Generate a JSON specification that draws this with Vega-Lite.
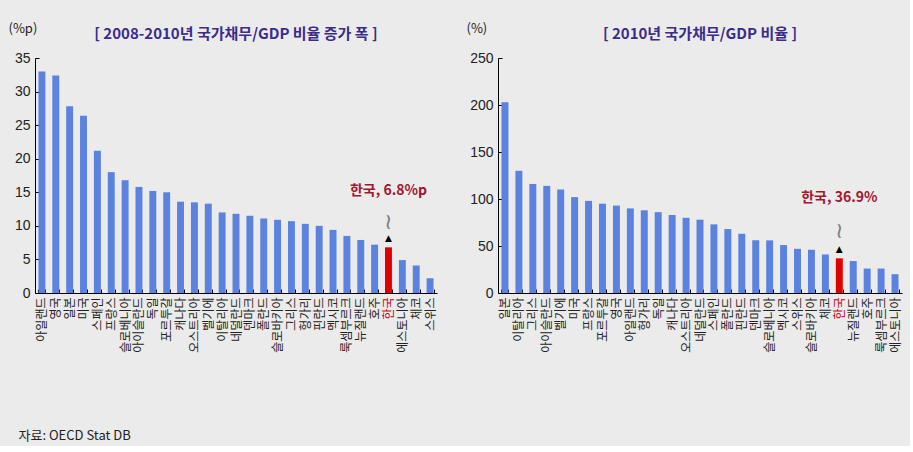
{
  "$schema": "https://vega.github.io/schema/vega-lite/v6.json",
  "background": "#EBEBEB",
  "padding": {"left": 8, "top": 22, "right": 8, "bottom": 4},
  "datasets": {
    "inc": [
      {"country": "아일랜드", "value": 33.0},
      {"country": "영국", "value": 32.4},
      {"country": "일본", "value": 27.8},
      {"country": "미국", "value": 26.4},
      {"country": "스페인", "value": 21.2},
      {"country": "프랑스", "value": 18.0},
      {"country": "슬로베니아", "value": 16.8},
      {"country": "아이슬란드", "value": 15.8},
      {"country": "독일", "value": 15.2},
      {"country": "포르투갈", "value": 15.0},
      {"country": "캐나다", "value": 13.6},
      {"country": "오스트리아", "value": 13.5},
      {"country": "벨기에", "value": 13.3},
      {"country": "이탈리아", "value": 12.0},
      {"country": "네덜란드", "value": 11.8},
      {"country": "덴마크", "value": 11.5},
      {"country": "폴란드", "value": 11.1},
      {"country": "슬로바키아", "value": 10.9},
      {"country": "그리스", "value": 10.7},
      {"country": "헝가리", "value": 10.3},
      {"country": "핀란드", "value": 10.0},
      {"country": "멕시코", "value": 9.4},
      {"country": "룩셈부르크", "value": 8.5},
      {"country": "뉴질랜드", "value": 7.9},
      {"country": "호주", "value": 7.2},
      {"country": "한국", "value": 6.8},
      {"country": "에스토니아", "value": 4.9},
      {"country": "체코", "value": 4.1},
      {"country": "스위스", "value": 2.2}
    ],
    "ratio": [
      {"country": "일본", "value": 203},
      {"country": "이탈리아", "value": 130},
      {"country": "그리스", "value": 116},
      {"country": "아이슬란드", "value": 114},
      {"country": "벨기에", "value": 110},
      {"country": "미국", "value": 102},
      {"country": "프랑스", "value": 98},
      {"country": "포르투갈", "value": 95},
      {"country": "영국", "value": 93},
      {"country": "아일랜드", "value": 90},
      {"country": "헝가리", "value": 88},
      {"country": "독일", "value": 86},
      {"country": "캐나다", "value": 83},
      {"country": "오스트리아", "value": 80},
      {"country": "네덜란드", "value": 78},
      {"country": "스페인", "value": 73},
      {"country": "폴란드", "value": 68},
      {"country": "핀란드", "value": 63},
      {"country": "덴마크", "value": 56},
      {"country": "슬로베니아", "value": 56},
      {"country": "멕시코", "value": 51},
      {"country": "스위스", "value": 47},
      {"country": "슬로바키아", "value": 46},
      {"country": "체코", "value": 41},
      {"country": "한국", "value": 36.9},
      {"country": "뉴질랜드", "value": 34},
      {"country": "호주", "value": 26},
      {"country": "룩셈부르크", "value": 26},
      {"country": "에스토니아", "value": 20}
    ],
    "incNote": [{"country": "한국", "value": 6.8, "label": "한국, 6.8%p", "arrow": "▲", "wave": "≀"}],
    "ratioNote": [{"country": "한국", "value": 36.9, "label": "한국, 36.9%", "arrow": "▲", "wave": "≀"}]
  },
  "config": {
    "font": "Noto Sans CJK KR",
    "view": {"stroke": null},
    "axis": {"grid": false, "domainColor": "#000000", "tickColor": "#000000", "labelColor": "#222222", "titleColor": "#222222", "titleFontWeight": "normal"},
    "title": {"color": "#3B2C8C", "fontSize": 15, "fontWeight": "bold", "frame": "group", "anchor": "middle", "offset": -20}
  },
  "spacing": 29,
  "hconcat": [
    {
      "width": 402,
      "height": 235,
      "title": {"text": "[ 2008-2010년 국가채무/GDP 비율 증가 폭 ]"},
      "encoding": {
        "x": {
          "field": "country", "type": "nominal", "sort": null,
          "scale": {"paddingInner": 0.5, "paddingOuter": 0.25},
          "axis": {
            "title": "자료: OECD Stat DB", "titleX": -17, "titleY": 142, "titleAlign": "left", "titleAnchor": "start", "titleBaseline": "middle", "titleFontSize": 13,
            "labelAngle": -90, "labelFontSize": 12, "labelPadding": 8, "tickBand": "extent", "tickSize": -4,
            "labelColor": {"condition": {"test": "datum.value === '한국'", "value": "#C00018"}, "value": "#222222"}
          }
        },
        "y": {
          "field": "value", "type": "quantitative",
          "scale": {"domain": [0, 35]},
          "axis": {
            "values": [0, 5, 10, 15, 20, 25, 30, 35], "labelOverlap": false,
            "title": "(%p)", "titleAngle": 0, "titleAlign": "left", "titleBaseline": "middle", "titleX": -27, "titleY": -30, "titleFontSize": 13,
            "labelFont": "Liberation Sans", "labelFontSize": 14, "tickSize": -4, "labelPadding": 9
          }
        }
      },
      "layer": [
        {
          "data": {"name": "inc"},
          "mark": {"type": "bar"},
          "encoding": {
            "color": {"condition": {"test": "datum.country === '한국'", "value": "#E00000"}, "value": "#5A82DE"}
          }
        },
        {
          "data": {"name": "incNote"},
          "mark": {"type": "text", "dy": -56, "fontSize": 14, "fontWeight": "bold", "color": "#A01830"},
          "encoding": {"text": {"field": "label"}}
        },
        {
          "data": {"name": "incNote"},
          "mark": {"type": "text", "dy": -9, "fontSize": 9, "color": "#000000", "font": "DejaVu Sans"},
          "encoding": {"text": {"field": "arrow"}}
        },
        {
          "data": {"name": "incNote"},
          "mark": {"type": "text", "dy": -25, "fontSize": 22, "color": "#808080", "font": "DejaVu Sans"},
          "encoding": {"text": {"field": "wave"}}
        }
      ]
    },
    {
      "width": 404,
      "height": 235,
      "title": {"text": "[ 2010년 국가채무/GDP 비율 ]"},
      "encoding": {
        "x": {
          "field": "country", "type": "nominal", "sort": null,
          "scale": {"paddingInner": 0.5, "paddingOuter": 0.25},
          "axis": {
            "title": null,
            "labelAngle": -90, "labelFontSize": 12, "labelPadding": 8, "tickBand": "extent", "tickSize": -4,
            "labelColor": {"condition": {"test": "datum.value === '한국'", "value": "#C00018"}, "value": "#222222"}
          }
        },
        "y": {
          "field": "value", "type": "quantitative",
          "scale": {"domain": [0, 250]},
          "axis": {
            "values": [0, 50, 100, 150, 200, 250], "labelOverlap": false,
            "title": "(%)", "titleAngle": 0, "titleAlign": "left", "titleBaseline": "middle", "titleX": -32, "titleY": -30, "titleFontSize": 13,
            "labelFont": "Liberation Sans", "labelFontSize": 14, "tickSize": -4, "labelPadding": 9
          }
        }
      },
      "layer": [
        {
          "data": {"name": "ratio"},
          "mark": {"type": "bar"},
          "encoding": {
            "color": {"condition": {"test": "datum.country === '한국'", "value": "#E00000"}, "value": "#5A82DE"}
          }
        },
        {
          "data": {"name": "ratioNote"},
          "mark": {"type": "text", "dy": -60, "fontSize": 14, "fontWeight": "bold", "color": "#A01830"},
          "encoding": {"text": {"field": "label"}}
        },
        {
          "data": {"name": "ratioNote"},
          "mark": {"type": "text", "dy": -9, "fontSize": 9, "color": "#000000", "font": "DejaVu Sans"},
          "encoding": {"text": {"field": "arrow"}}
        },
        {
          "data": {"name": "ratioNote"},
          "mark": {"type": "text", "dy": -27, "fontSize": 22, "color": "#808080", "font": "DejaVu Sans"},
          "encoding": {"text": {"field": "wave"}}
        }
      ]
    }
  ]
}
